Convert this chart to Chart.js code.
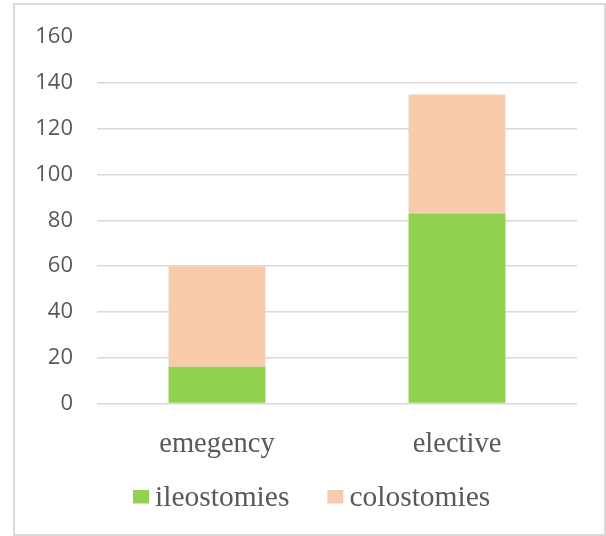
<!DOCTYPE html>
<html>
<head>
<meta charset="utf-8">
<script src="https://cdn.jsdelivr.net/npm/chart.js@4/dist/chart.umd.min.js"></script>
<style>
  html, body { margin: 0; padding: 0; background: #ffffff; }
  #wrap { position: relative; width: 606px; height: 536px; overflow: hidden; }
  #frame {
    position: absolute; left: 13px; top: 3px; width: 589px; height: 529px;
    border: 2px solid #dadada; pointer-events: none;
  }
  canvas { position: absolute; left: 0; top: 0; }
</style>
</head>
<body>
<div id="wrap">
  <canvas id="chart" width="606" height="536"></canvas>
  <div id="frame"></div>
</div>
<script>
// Stoma type by admission type
const categories = ['emegency', 'elective'];
const seriesNames = ['ileostomies', 'colostomies'];
const ileostomies = [16, 83];
const colostomies = [44, 52];
const yTickStep = 20;
const yMax = 160;

const colors = ['#92d050', '#f8cbad'];
const textColor = '#595959';

// Legend row drawn under the axis: square swatch followed by the series name
const legendRow = {
  id: 'legendRow',
  afterDraw(chart, args, opts) {
    const ctx = chart.ctx;
    ctx.save();
    ctx.font = opts.font;
    ctx.textBaseline = 'alphabetic';
    ctx.textAlign = 'left';
    let x = opts.x;
    chart.data.datasets.forEach((ds, i) => {
      ctx.fillStyle = ds.backgroundColor;
      ctx.fillRect(x, opts.boxTop, opts.boxW, opts.boxH);
      const tx = x + opts.boxW + opts.textGap;
      ctx.fillStyle = opts.color;
      ctx.fillText(ds.label, tx, opts.baseline);
      x = tx + ctx.measureText(ds.label).width + opts.itemGap;
    });
    ctx.restore();
  }
};

new Chart(document.getElementById('chart'), {
  type: 'bar',
  data: {
    labels: categories,
    datasets: [
      { label: seriesNames[0], data: ileostomies, backgroundColor: colors[0], borderWidth: 0 },
      { label: seriesNames[1], data: colostomies, backgroundColor: colors[1], borderWidth: 0 }
    ]
  },
  plugins: [legendRow],
  options: {
    responsive: false,
    animation: false,
    layout: { padding: { left: 0, right: 29, top: 35, bottom: 52.5 } },
    datasets: { bar: { barPercentage: 0.404, categoryPercentage: 1 } },
    scales: {
      x: {
        stacked: true,
        grid: { display: false },
        border: { display: false },
        ticks: {
          color: textColor,
          padding: 16,
          font: { family: '"Liberation Serif", "Times New Roman", serif', size: 28.5 }
        },
        afterFit(s) { s.height = 80; }
      },
      y: {
        stacked: true,
        min: 0,
        max: yMax,
        border: { display: false },
        grid: {
          drawTicks: false,
          lineWidth: 1.4,
          color: c => (c.tick && c.tick.value === yMax) ? 'rgba(0,0,0,0)' : '#d9d9d9'
        },
        ticks: {
          stepSize: yTickStep,
          color: textColor,
          padding: 24,
          font: { family: '"Open Sans", sans-serif', size: 22 }
        },
        afterFit(s) { s.width = 97; }
      }
    },
    plugins: {
      legend: { display: false },
      tooltip: { enabled: false },
      legendRow: {
        x: 133,
        boxTop: 490,
        boxW: 16,
        boxH: 13.5,
        textGap: 6,
        itemGap: 38,
        baseline: 505.5,
        color: textColor,
        font: '29.5px "Liberation Serif", "Times New Roman", serif'
      }
    }
  }
});
</script>
</body>
</html>
